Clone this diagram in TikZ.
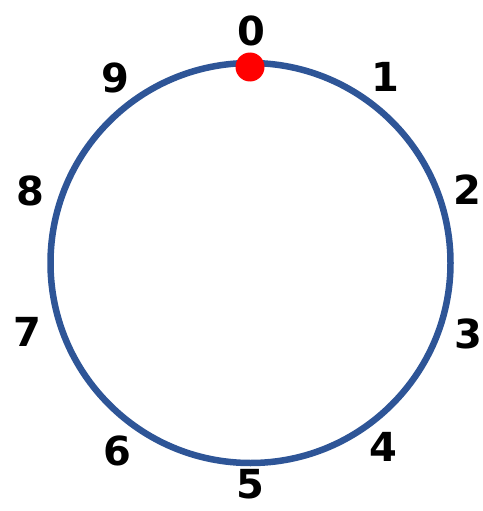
\documentclass[tikz,border=0pt]{standalone}
\usepackage{fontspec}
\setmainfont{DejaVu Sans}
\definecolor{ringblue}{RGB}{46,85,151}
\definecolor{dotred}{RGB}{255,0,0}
\begin{document}
\begin{tikzpicture}[x=1pt,y=-1pt,
  lab/.style={font=\fontsize{40}{40}\selectfont\bfseries, text=black, inner sep=0pt}]
\useasboundingbox (0,0) rectangle (482,511);
\node[draw=ringblue, line width=6.5pt, circle, minimum size=400pt, inner sep=0pt] (ring) at (250.5,263) {};
\fill[dotred] (250,67) circle (14.5pt);
\node[lab] (l0) at (251,31) {0};
\node[lab] (l1) at (385,77) {1};
\node[lab] (l2) at (467,190) {2};
\node[lab] (l3) at (468,334) {3};
\node[lab] (l4) at (383,447) {4};
\node[lab] (l5) at (250,484) {5};
\node[lab] (l6) at (117,451) {6};
\node[lab] (l7) at (27,332) {7};
\node[lab] (l8) at (30,191) {8};
\node[lab] (l9) at (115,78) {9};
\end{tikzpicture}
\end{document}
